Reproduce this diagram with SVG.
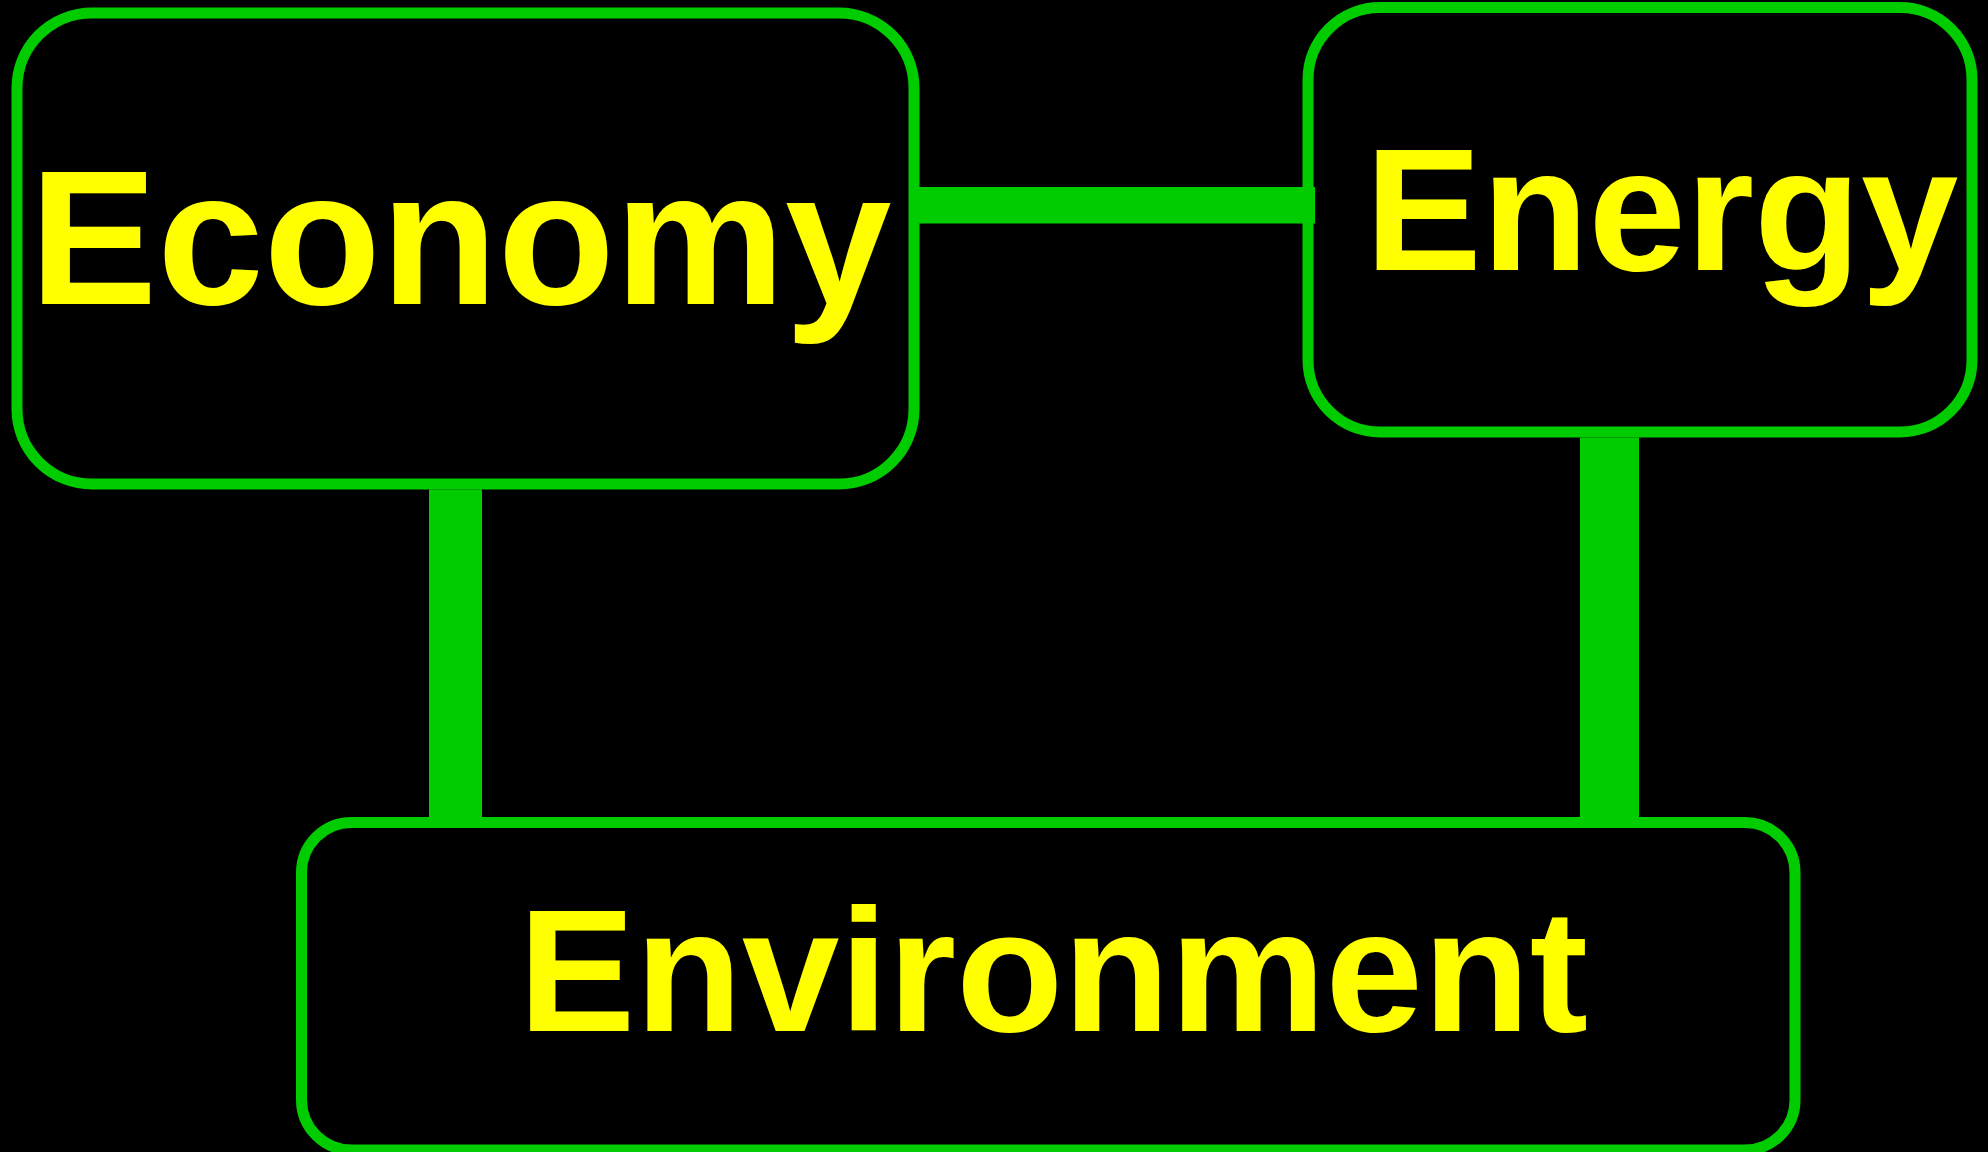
<svg xmlns="http://www.w3.org/2000/svg" width="1988" height="1152" viewBox="0 0 1988 1152">
  <style>
    .box { fill: #000000; stroke: #00CC00; stroke-width: 11; }
    .lbl { fill: #FFFF00; font-family: "Liberation Sans", Arial, sans-serif; font-weight: bold; }
    .conn { fill: #00CC00; }
  </style>
  <rect x="0" y="0" width="1988" height="1152" fill="#000000"/>
  <g id="economy">
    <rect class="box" x="17" y="13" width="897" height="471" rx="75" ry="75"/>
    <text class="lbl" x="29.5" y="304" font-size="191.5">Economy</text>
  </g>
  <g id="energy">
    <rect class="box" x="1308" y="7.5" width="664" height="424.5" rx="72" ry="72"/>
    <text class="lbl" x="1365" y="270" font-size="175">Energy</text>
  </g>
  <g id="environment">
    <rect class="box" x="301.5" y="822.5" width="1493.5" height="327.5" rx="50" ry="50"/>
    <text class="lbl" x="518.5" y="1031" font-size="175">Environment</text>
  </g>
  <g id="connectors">
    <rect class="conn" x="914" y="187" width="401" height="36.5"/>
    <rect class="conn" x="429" y="489.5" width="53" height="328"/>
    <rect class="conn" x="1580" y="437.5" width="59" height="380"/>
  </g>
</svg>
